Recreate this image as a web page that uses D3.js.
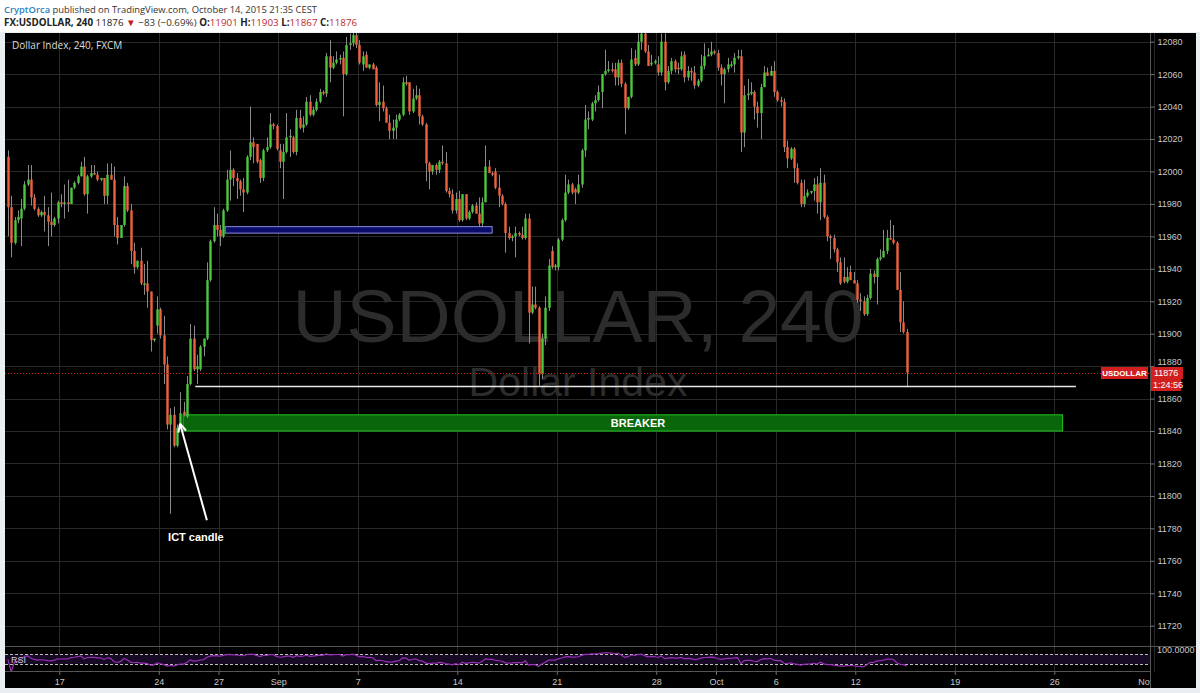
<!DOCTYPE html>
<html>
<head>
<meta charset="utf-8">
<script src="https://cdn.jsdelivr.net/npm/d3@7"></script>
<style>
  body { margin: 0; background: #fff; }
  svg { display: block; }
</style>
</head>
<body>
<div id="chart"></div>
<script>
// USDOLLAR 4h candles, Aug 12 (3rd candle) .. Oct 14 2015
var opens = [
  12009,11978,11956,11970,11971,11977,11992,11995,11984,11977,11973,11975,11973,11969,11967,11971,
  11981,11980,11981,11980,11990,11993,11997,12003,11986,11997,11999,11998,11995,11996,11985,11998,
  11995,11967,11959,11967,11991,11976,11951,11941,11945,11930,11931,11926,11896,11905,11915,11899,
  11881,11844,11850,11831,11842,11852,11849,11869,11897,11878,11878,11892,11897,11933,11957,11967,
  11964,11960,11976,11995,12001,11996,11994,11989,11987,12009,12018,12017,12007,11996,12013,12015,
  12029,12028,12013,12006,12012,12021,12021,12012,12033,12027,12029,12043,12035,12038,12043,12049,
  12048,12071,12064,12067,12069,12070,12060,12078,12079,12084,12078,12066,12072,12064,12066,12064,
  12041,12043,12039,12030,12025,12027,12032,12035,12055,12055,12037,12045,12047,12034,12029,12005,
  12000,12004,12001,12006,12005,11988,11986,11976,11983,11970,11986,11971,11975,11979,11974,11968,
  11981,12003,11999,12000,11990,11985,11980,11962,11959,11960,11962,11961,11959,11971,11913,11918,
  11916,11875,11897,11916,11951,11941,11941,11958,11970,11987,11992,11989,11987,11992,12013,12032,
  12032,12042,12044,12049,12060,12062,12063,12063,12058,12067,12054,12039,12046,12070,12066,12080,
  12085,12074,12066,12067,12066,12061,12080,12055,12062,12068,12064,12063,12072,12058,12062,12061,
  12053,12056,12065,12071,12072,12074,12073,12064,12060,12063,12065,12066,12070,12071,12024,12047,
  12048,12049,12040,12036,12052,12061,12059,12062,12049,12044,12043,12015,12008,12014,12002,11993,
  11980,11985,11987,11988,11992,11981,11993,11972,11960,11959,11952,11944,11935,11932,11938,11933,
  11931,11921,11920,11912,11922,11937,11935,11946,11947,11951,11959,11958,11956,11927,11907,11901
];
var highs = [
  12013,11985,11972,11976,11983,11994,12004,12004,11986,11978,11976,11985,11978,11987,11972,11982,
  11986,11992,11995,11990,11994,11998,12006,12009,11998,12004,12004,12000,11996,11996,12005,12005,
  12003,11972,11966,11997,11993,11980,11956,11945,11953,11943,11945,11926,11897,11923,11916,11911,
  11886,11854,11855,11844,11864,11858,11874,11906,11905,11887,11893,11897,11944,11958,11978,11974,
  11967,11977,12001,12013,12002,11999,11995,11996,12010,12040,12021,12017,12008,12014,12021,12036,
  12030,12029,12017,12017,12036,12026,12022,12038,12038,12034,12046,12047,12040,12045,12051,12050,
  12073,12081,12071,12074,12072,12074,12083,12085,12087,12088,12081,12074,12074,12066,12067,12065,
  12055,12053,12040,12035,12032,12035,12036,12058,12059,12055,12051,12053,12051,12035,12030,12006,
  12004,12005,12007,12016,12012,11990,11989,11987,11988,11986,11986,11976,11980,11981,11984,11984,
  12016,12007,12000,12002,11998,11986,11981,11966,11961,11966,11963,11966,11974,11974,11929,11929,
  11917,11900,11923,11946,11954,11943,11959,11971,11998,11995,11993,11990,11998,12014,12041,12037,
  12043,12047,12053,12060,12075,12068,12067,12067,12069,12069,12055,12046,12076,12075,12085,12087,
  12087,12078,12072,12069,12071,12085,12085,12065,12070,12069,12067,12074,12074,12065,12064,12065,
  12057,12072,12079,12076,12080,12075,12075,12066,12064,12070,12068,12073,12075,12075,12053,12057,
  12055,12050,12043,12054,12065,12064,12065,12068,12050,12046,12045,12019,12015,12015,12005,11995,
  11995,11989,11988,11996,11997,12002,11998,11973,11961,11961,11953,11947,11947,11941,11942,11938,
  11933,11925,11923,11924,11940,11939,11947,11952,11964,11964,11970,11967,11957,11938,11920,11903
];
var lows = [
  11960,11947,11955,11968,11954,11976,11991,11979,11976,11972,11972,11963,11954,11960,11966,11968,
  11978,11971,11975,11980,11989,11992,11997,11985,11974,11996,11998,11994,11994,11980,11980,11995,
  11960,11955,11959,11966,11975,11943,11937,11940,11930,11924,11916,11889,11895,11900,11897,11869,
  11841,11789,11830,11830,11841,11849,11848,11868,11877,11869,11877,11886,11896,11932,11956,11960,
  11954,11959,11975,11982,11991,11983,11985,11975,11986,12007,12005,12005,11993,11994,12012,12014,
  12026,12013,12002,11983,12011,12009,12011,12010,12026,12024,12028,12034,12034,12037,12042,12047,
  12046,12055,12063,12066,12066,12034,12059,12075,12077,12076,12066,12062,12064,12063,12063,12040,
  12031,12037,12030,12020,12020,12020,12031,12034,12053,12035,12036,12044,12029,12028,11994,11989,
  11998,11998,11999,12004,11987,11984,11974,11974,11969,11969,11970,11970,11974,11974,11966,11966,
  11981,11999,11997,11989,11978,11979,11950,11958,11957,11947,11960,11958,11958,11894,11912,11915,
  11868,11872,11893,11914,11940,11939,11939,11957,11969,11986,11986,11980,11986,11990,12009,12026,
  12031,12037,12043,12039,12059,12061,12061,12053,12053,12052,12023,12038,12045,12065,12065,12075,
  12073,12065,12065,12066,12059,12059,12050,12054,12060,12061,12060,12062,12055,12056,12056,12051,
  12052,12055,12063,12071,12071,12072,12062,12053,12042,12061,12064,12061,12069,12012,12015,12044,
  12047,12032,12027,12020,12052,12059,12059,12046,12043,12040,12012,12002,12007,11993,11992,11978,
  11978,11984,11986,11982,11974,11970,11971,11957,11946,11950,11938,11930,11931,11931,11933,11931,
  11919,11914,11911,11911,11921,11931,11918,11945,11947,11949,11958,11955,11927,11901,11900,11867
];
var closes = [
  11978,11956,11970,11972,11977,11992,11995,11984,11977,11973,11975,11973,11969,11967,11971,11981,
  11980,11981,11980,11990,11993,11997,12003,11986,11997,11999,11998,11995,11996,11985,11998,11995,
  11967,11959,11967,11991,11976,11951,11941,11945,11931,11931,11926,11896,11897,11915,11899,11881,
  11844,11850,11831,11842,11851,11850,11869,11897,11878,11880,11892,11897,11933,11957,11967,11964,
  11960,11976,11995,12001,11996,11994,11989,11987,12009,12018,12015,12006,11996,12013,12015,12029,
  12028,12014,12006,12012,12021,12022,12012,12033,12027,12029,12043,12035,12038,12043,12049,12048,
  12071,12064,12067,12069,12070,12060,12078,12079,12084,12078,12067,12071,12064,12066,12063,12041,
  12043,12039,12030,12025,12027,12032,12035,12055,12054,12037,12045,12047,12034,12029,12005,12000,
  12004,12001,12006,12005,11988,11986,11976,11983,11970,11986,11971,11975,11979,11974,11968,11981,
  12003,11999,11998,11990,11985,11980,11962,11959,11960,11962,11961,11959,11971,11913,11918,11916,
  11875,11897,11916,11942,11941,11942,11958,11970,11987,11992,11987,11987,11992,12013,12032,12033,
  12042,12044,12049,12060,12062,12063,12062,12058,12067,12054,12039,12046,12069,12066,12080,12085,
  12074,12065,12067,12068,12061,12080,12055,12062,12068,12063,12063,12071,12058,12062,12061,12053,
  12056,12065,12071,12072,12074,12073,12064,12060,12063,12066,12066,12070,12071,12024,12047,12048,
  12049,12040,12036,12052,12061,12059,12062,12049,12044,12043,12015,12008,12014,12002,11993,11980,
  11985,11987,11988,11992,11981,11993,11972,11960,11959,11952,11944,11931,11932,11935,11933,11931,
  11921,11920,11912,11922,11937,11935,11946,11947,11951,11959,11958,11956,11927,11907,11901,11876
];

// time axis: trading days counted from Mon Aug 17 (weekends skipped)
var tickDays   = [0, 5, 8, 11, 15, 20, 25, 30, 33, 36, 40, 45, 50, 55];
var tickLabels = ["17", "24", "27", "Sep", "7", "14", "21", "28", "Oct", "6", "12", "19", "26", "Nov"];
var priceTicks = [11720, 11740, 11760, 11780, 11800, 11820, 11840, 11860, 11880, 11900,
                  11920, 11940, 11960, 11980, 12000, 12020, 12040, 12060, 12080];

// drawings on the chart (candle index / price)
var blueBox = { from: 65.5, to: 146, lo: 11962, hi: 11966 };
var whiteLevel = { from: 56.5, to: 322, price: 11868 };
var breaker = { from: 52.8, to: 318, lo: 11840, hi: 11850, textAt: 190 };
var lastPrice = 11876;

// 6 four-hour candles per trading day, first candle is slot 2 of Aug 12 (day -3)
function candleDay(i) { return (i - 15.5) / 6; }

var W = 1200, H = 693;
var pL = 5, pR = 1150, pT = 33, paneB = 646.5, rsiT = 646.8, rsiB = 671.8, pB = 688;
var FONT = "Liberation Sans, Arial, sans-serif";

var x = d3.scaleLinear().domain([0, 55]).range([59.3, 1153.8]);
var y = d3.scaleLinear().domain([11720, 12080]).range([625.7, 41.7]);
var yr = d3.scaleLinear().domain([0, 100]).range([rsiB, rsiT]);
function xi(i) { return x(candleDay(i)); }

var svg = d3.select("#chart").append("svg").attr("width", W).attr("height", H);

// frame
svg.append("rect").attr("width", W).attr("height", H).attr("fill", "#fff");
svg.append("rect").attr("x", 0).attr("y", pT - 1).attr("width", W).attr("height", H - pT + 1).attr("fill", "#e9eef1");
svg.append("rect").attr("x", pL).attr("y", pT).attr("width", 1196 - pL).attr("height", pB - pT).attr("fill", "#000");

var defs = svg.append("defs");
defs.append("clipPath").attr("id", "plot").append("rect")
  .attr("x", pL).attr("y", pT).attr("width", pR - pL).attr("height", paneB - pT);
defs.append("clipPath").attr("id", "rsi").append("rect")
  .attr("x", pL).attr("y", rsiT).attr("width", pR - pL).attr("height", rsiB - rsiT);
defs.append("clipPath").attr("id", "axisx").append("rect")
  .attr("x", pL).attr("y", rsiB - 1).attr("width", pR - pL).attr("height", pB - rsiB + 1);

// grid
var grid = svg.append("g");
grid.selectAll(".hg").data(priceTicks).enter().append("line")
  .attr("x1", pL).attr("x2", pR)
  .attr("y1", function(d) { return Math.round(y(d)) + 0.5; })
  .attr("y2", function(d) { return Math.round(y(d)) + 0.5; })
  .attr("stroke", "#282828");
grid.selectAll(".vg").data(tickDays).enter().append("line")
  .attr("x1", function(d) { return Math.round(x(d)) + 0.5; })
  .attr("x2", function(d) { return Math.round(x(d)) + 0.5; })
  .attr("y1", pT).attr("y2", rsiB)
  .attr("stroke", "#282828");

// watermark
var wm = svg.append("g").attr("clip-path", "url(#plot)").attr("font-family", FONT)
  .attr("fill", "#2c2c2c").attr("text-anchor", "middle");
wm.append("text").attr("x", 578).attr("y", 342).attr("font-size", 75).text("USDOLLAR, 240");
wm.append("text").attr("x", 578).attr("y", 396).attr("font-size", 41).text("Dollar Index");

var plot = svg.append("g").attr("clip-path", "url(#plot)");

// blue box
plot.append("rect")
  .attr("x", xi(blueBox.from)).attr("width", xi(blueBox.to) - xi(blueBox.from))
  .attr("y", y(blueBox.hi)).attr("height", y(blueBox.lo) - y(blueBox.hi))
  .attr("fill", "#0b0b6a").attr("stroke", "#8c8cd8").attr("stroke-width", 1);

// breaker
plot.append("rect")
  .attr("x", xi(breaker.from)).attr("width", xi(breaker.to) - xi(breaker.from))
  .attr("y", y(breaker.hi)).attr("height", y(breaker.lo) - y(breaker.hi))
  .attr("fill", "#0a660a").attr("stroke", "#22c322").attr("stroke-width", 1);
plot.append("text")
  .attr("x", xi(breaker.textAt)).attr("y", y((breaker.lo + breaker.hi) / 2) + 4)
  .attr("text-anchor", "middle").attr("fill", "#fff").attr("font-weight", "bold")
  .attr("font-family", FONT).attr("font-size", 11)
  .text("BREAKER");

// candles
var idx = d3.range(closes.length);
var candles = plot.selectAll(".c").data(idx).enter().append("g");
candles.append("line")
  .attr("x1", function(i) { return Math.round(xi(i)) + 0.5; })
  .attr("x2", function(i) { return Math.round(xi(i)) + 0.5; })
  .attr("y1", function(i) { return y(highs[i]); })
  .attr("y2", function(i) { return y(lows[i]); })
  .attr("stroke", "#8a8a8a");
candles.append("rect")
  .attr("x", function(i) { return Math.round(xi(i)) - 0.7; })
  .attr("width", 2.4)
  .attr("y", function(i) { return y(Math.max(opens[i], closes[i])); })
  .attr("height", function(i) { return Math.max(1, Math.abs(y(opens[i]) - y(closes[i]))); })
  .attr("fill", function(i) { return closes[i] >= opens[i] ? "#4cc83c" : "#f0623e"; });

// white level line
plot.append("line")
  .attr("x1", xi(whiteLevel.from)).attr("x2", xi(whiteLevel.to))
  .attr("y1", Math.round(y(whiteLevel.price)) + 0.5).attr("y2", Math.round(y(whiteLevel.price)) + 0.5)
  .attr("stroke", "#e8e8e8").attr("stroke-width", 1.3);

// current price line
svg.append("line")
  .attr("x1", pL).attr("x2", pR)
  .attr("y1", Math.round(y(lastPrice)) + 0.5).attr("y2", Math.round(y(lastPrice)) + 0.5)
  .attr("stroke", "#d21b1b").attr("stroke-dasharray", "1,2");

// ICT candle arrow
var tail = [xi(60), y(11785)], tip = [xi(51.9), y(11844.5)];
var ang = Math.atan2(tail[1] - tip[1], tail[0] - tip[0]);
plot.append("line").attr("x1", tail[0]).attr("y1", tail[1]).attr("x2", tip[0]).attr("y2", tip[1])
  .attr("stroke", "#fff").attr("stroke-width", 2);
[-0.45, 0.45].forEach(function(a) {
  plot.append("line").attr("x1", tip[0]).attr("y1", tip[1])
    .attr("x2", tip[0] + 9 * Math.cos(ang + a)).attr("y2", tip[1] + 9 * Math.sin(ang + a))
    .attr("stroke", "#fff").attr("stroke-width", 2);
});
plot.append("text").attr("x", xi(48.3)).attr("y", y(11774.5) + 4)
  .attr("fill", "#fff").attr("font-weight", "bold").attr("font-size", 11)
  .attr("font-family", FONT).text("ICT candle");

// RSI(14)
var rsi = [50], ag = 0, al = 0;
for (var i = 1; i < closes.length; i++) {
  var ch = closes[i] - closes[i - 1], n = Math.min(i, 14);
  ag = (ag * (n - 1) + Math.max(ch, 0)) / n;
  al = (al * (n - 1) + Math.max(-ch, 0)) / n;
  rsi.push(al === 0 ? 100 : 100 - 100 / (1 + ag / al));
}
var rg = svg.append("g").attr("clip-path", "url(#rsi)");
rg.append("rect").attr("x", pL).attr("width", pR - pL)
  .attr("y", yr(70)).attr("height", yr(30) - yr(70)).attr("fill", "#170a24");
[70, 30].forEach(function(v) {
  rg.append("line").attr("x1", pL).attr("x2", pR)
    .attr("y1", Math.round(yr(v)) + 0.5).attr("y2", Math.round(yr(v)) + 0.5)
    .attr("stroke", "#bdbdbd").attr("stroke-dasharray", "3,2");
});
rg.append("path").datum(idx)
  .attr("d", d3.line().x(function(i) { return xi(i); }).y(function(i) { return yr(rsi[i]); }))
  .attr("fill", "none").attr("stroke", "#9a2fb8").attr("stroke-width", 1.2);
svg.append("text").attr("x", 11).attr("y", 663).attr("fill", "#d0d0d0")
  .attr("font-family", FONT).attr("font-size", 9).text("RSI");

// pane borders
svg.append("line").attr("x1", pL).attr("x2", 1196).attr("y1", 646.5).attr("y2", 646.5).attr("stroke", "#555");
svg.append("line").attr("x1", pL).attr("x2", pR).attr("y1", 671.5).attr("y2", 671.5).attr("stroke", "#555");
svg.append("line").attr("x1", pR + 0.5).attr("x2", pR + 0.5).attr("y1", pT).attr("y2", pB).attr("stroke", "#555");

// price axis
var ya = svg.append("g").attr("transform", "translate(" + (pR + 0.5) + ",0)")
  .call(d3.axisRight(y).tickValues(priceTicks).tickSize(4).tickPadding(3).tickFormat(d3.format("d")));
ya.select(".domain").remove();
ya.selectAll("line").attr("stroke", "#777");
ya.selectAll("text").attr("fill", "#c8c8c8").attr("font-size", 9).attr("font-family", FONT);
svg.append("text").attr("x", 1157).attr("y", 653).attr("fill", "#c8c8c8").attr("font-size", 9)
  .attr("font-family", FONT).text("100.0000");

// time axis (clip on an outer group so the clip box stays in page coordinates)
var xa = svg.append("g").attr("clip-path", "url(#axisx)")
  .append("g").attr("transform", "translate(0," + rsiB + ")")
  .call(d3.axisBottom(x).tickValues(tickDays).tickSize(3).tickPadding(4)
    .tickFormat(function(d, i) { return tickLabels[i]; }));
xa.select(".domain").remove();
xa.selectAll("line").attr("stroke", "#777");
xa.selectAll("text").attr("fill", "#c8c8c8").attr("font-size", 9).attr("font-family", FONT);
// last label sits against the price scale and is cut by it
xa.selectAll(".tick").filter(function(d) { return d === 55; }).select("text").attr("dx", "-8");

// price labels (cover the 11880 tick like the reference)
var ly = Math.round(y(lastPrice));
svg.append("rect").attr("x", 1101).attr("y", ly - 6).attr("width", 47).attr("height", 12).attr("fill", "#d11f1f");
svg.append("text").attr("x", 1124.5).attr("y", ly + 3).attr("text-anchor", "middle").attr("fill", "#fff")
  .attr("font-size", 8).attr("font-weight", "bold").attr("font-family", FONT).text("USDOLLAR");
ya.selectAll(".tick").filter(function(d) { return d === 11880; }).select("text").attr("dy", "-0.2em");
svg.append("rect").attr("x", 1151).attr("y", ly - 6).attr("width", 32).attr("height", 12).attr("fill", "#d11f1f");
svg.append("text").attr("x", 1154).attr("y", ly + 3).attr("fill", "#fff")
  .attr("font-size", 9).attr("font-family", FONT).text("11876");
svg.append("rect").attr("x", 1151).attr("y", ly + 6).attr("width", 30).attr("height", 12).attr("fill", "#d11f1f");
svg.append("text").attr("x", 1153).attr("y", ly + 15).attr("fill", "#fff")
  .attr("font-size", 9).attr("font-family", FONT).text("1:24:56");

// chart title inside
svg.append("text").attr("x", 12).attr("y", 49).attr("fill", "#dcdcdc").attr("font-size", 10)
  .attr("font-family", "Open Sans, sans-serif").text("Dollar Index, 240, FXCM");

// header
var h1 = svg.append("text").attr("x", 4).attr("y", 13).attr("font-size", 9.4).attr("font-family", "Open Sans, sans-serif");
h1.append("tspan").attr("fill", "#2a7fc3").attr("font-weight", 600).text("CryptOrca");
h1.append("tspan").attr("fill", "#333").text(" published on TradingView.com, October 14, 2015 21:35 CEST");
var h2 = svg.append("text").attr("x", 4).attr("y", 26).attr("font-size", 9.8).attr("font-family", "Open Sans, sans-serif").attr("fill", "#222");
h2.append("tspan").attr("font-weight", "bold").text("FX:USDOLLAR, 240");
h2.append("tspan").text(" 11876 ");
h2.append("tspan").attr("fill", "#c41b1b").text("\u25BC");
h2.append("tspan").attr("fill", "#333").text(" \u221283 (\u22120.69%) ");
[["O:", "11901"], [" H:", "11903"], [" L:", "11867"], [" C:", "11876"]].forEach(function(p) {
  h2.append("tspan").attr("font-weight", "bold").text(p[0]);
  h2.append("tspan").attr("fill", "#c0282b").text(p[1]);
});
</script>
</body>
</html>
